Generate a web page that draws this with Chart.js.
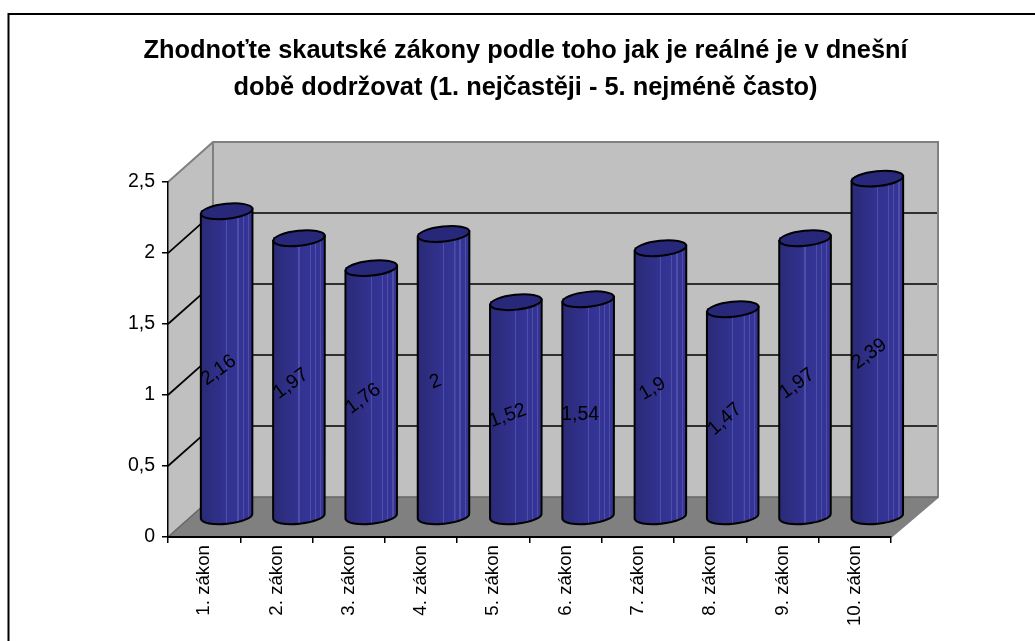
<!DOCTYPE html>
<html><head><meta charset="utf-8">
<style>html,body{margin:0;padding:0;background:#fff;overflow:hidden}canvas{display:block}</style>
<script src="https://cdn.jsdelivr.net/npm/chart.js@4"></script>
</head><body><canvas id="c" width="1035" height="641"></canvas>
<script>
const categories = ["1. zákon","2. zákon","3. zákon","4. zákon","5. zákon","6. zákon","7. zákon","8. zákon","9. zákon","10. zákon"];
const seriesValues = [2.16,1.97,1.76,2,1.52,1.54,1.9,1.47,1.97,2.39];
const yTickStep = 0.5;
const yMax = 2.5;
const titleLines = ["Zhodnoťte skautské zákony podle toho jak je reálné je v dnešní","době dodržovat (1. nejčastěji - 5. nejméně často)"];
const labelTilt = [-36,-36,-36,-22,-20,0,-30,-42,-36,-36];

const FONT = '"Liberation Sans", Arial, sans-serif';
const depth = {x:45, y:40, xRight:47};
const mid = {x:22.5, y:20};
const fmt = v => String(v).replace('.',',');
const barW = 0.714;

function barFill(ctx){
  const chart = ctx.chart, sx = chart.scales.x;
  if(!sx || ctx.dataIndex===undefined) return '#33338F';
  const w = (sx.width/categories.length)*barW;
  const cx = sx.getPixelForValue(ctx.dataIndex);
  if(!isFinite(cx) || !isFinite(w)) return '#33338F';
  const g = chart.ctx.createLinearGradient(cx-w/2,0,cx+w/2,0);
  const base = t => { const a=[42,42,118],b=[52,52,150];
    const k = Math.min(1,t/0.6);
    return `rgb(${a.map((v,i)=>Math.round(v+(b[i]-v)*k)).join(',')})`; };
  const streaks=[0.5,0.72,0.82,0.92];
  g.addColorStop(0,base(0));
  streaks.forEach(s=>{
    g.addColorStop(s-0.012,base(s));
    g.addColorStop(s-0.011,'rgb(78,78,166)');
    g.addColorStop(s+0.011,'rgb(78,78,166)');
    g.addColorStop(s+0.012,base(s));
  });
  g.addColorStop(1,base(1));
  return g;
}

const scene3d = {
  id:'scene3d',
  beforeDraw(chart){
    const c=chart.ctx, sx=chart.scales.x, sy=chart.scales.y;
    const L=sx.left,R=sx.right,T=sy.top,B=sy.bottom;
    const BL=L+depth.x, BR=R+depth.xRight, BT=T-depth.y, BB=B-depth.y;
    c.save();
    c.fillStyle='#fff'; c.fillRect(0,0,chart.width,chart.height);
    // frame
    c.strokeStyle='#000'; c.lineWidth=2;
    c.beginPath(); c.moveTo(8.5,chart.height+2); c.lineTo(8.5,14); c.lineTo(chart.width+2,14); c.stroke();
    // walls
    c.fillStyle='#C0C0C0';
    c.beginPath(); c.moveTo(L,T); c.lineTo(BL,BT); c.lineTo(BL,BB); c.lineTo(L,B); c.closePath(); c.fill();
    c.fillRect(BL,BT,BR-BL,BB-BT);
    c.fillStyle='#808080';
    c.beginPath(); c.moveTo(L,B); c.lineTo(BL,BB); c.lineTo(BR,BB); c.lineTo(R,B); c.closePath(); c.fill();
    // gridlines
    c.strokeStyle='#000'; c.lineWidth=1.7;
    for(let v=yTickStep;v<yMax;v+=yTickStep){
      const y=sy.getPixelForValue(v);
      c.beginPath(); c.moveTo(L,y); c.lineTo(BL,y-depth.y); c.lineTo(BR,y-depth.y); c.stroke();
    }
    // wall edges
    c.strokeStyle='#808080'; c.lineWidth=2;
    c.beginPath(); c.moveTo(L,T); c.lineTo(BL,BT); c.lineTo(BR,BT); c.lineTo(BR,BB); c.lineTo(R,B); c.stroke();
    c.beginPath(); c.moveTo(BL,BT); c.lineTo(BL,BB); c.stroke();
    c.strokeStyle='#666'; c.lineWidth=1.5;
    c.beginPath(); c.moveTo(L,B); c.lineTo(BL,BB); c.lineTo(BR,BB); c.stroke();
    c.restore();
  },
  beforeDatasetsDraw(chart){
    chart.ctx.save();
    chart.ctx.translate(mid.x,-mid.y);
  },
  afterDatasetsDraw(chart){
    const c=chart.ctx, ry=7.5, rot=-6*Math.PI/180;
    const els=chart.getDatasetMeta(0).data;
    els.forEach(el=>{
      const rx=el.width/2, dy=rx*Math.sin(-rot);
      c.lineJoin='round';
      c.fillStyle=el.options.backgroundColor;
      c.beginPath();
      c.ellipse(el.x,el.base,rx,ry,rot,0,Math.PI);
      c.lineTo(el.x-rx,el.base-dy);
      c.lineTo(el.x+rx,el.base-dy);
      c.closePath(); c.fill();
      c.strokeStyle='#000'; c.lineWidth=2;
      c.beginPath();
      c.moveTo(el.x-rx,el.y+dy);
      c.lineTo(el.x-rx,el.base+dy);
      c.ellipse(el.x,el.base,rx,ry,rot,Math.PI,0,true);
      c.lineTo(el.x+rx,el.y-dy);
      c.stroke();
      c.fillStyle='#28287A';
      c.beginPath(); c.ellipse(el.x,el.y+1,rx,ry,rot,0,Math.PI*2); c.fill(); c.stroke();
    });
    c.restore();
    // value labels
    c.save();
    c.fillStyle='#000'; c.font='19.5px '+FONT; c.textAlign='center'; c.textBaseline='middle';
    els.forEach((el,i)=>{
      c.save();
      c.translate(el.x+mid.x-8,(el.y+el.base)/2-mid.y+7);
      c.rotate(labelTilt[i]*Math.PI/180);
      c.fillText(fmt(seriesValues[i]),0,0);
      c.restore();
    });
    c.restore();
  }
};

new Chart(document.getElementById('c'),{
  type:'bar',
  data:{labels:categories,datasets:[{data:seriesValues,backgroundColor:barFill,borderWidth:0,
    categoryPercentage:1,barPercentage:barW}]},
  plugins:[scene3d],
  options:{
    responsive:false,animation:false,
    layout:{padding:{left:16,right:0,top:0,bottom:0}},
    plugins:{
      legend:{display:false},tooltip:{enabled:false},
      title:{display:true,text:titleLines,color:'#000',
        font:{family:FONT,size:25.4,weight:'bold',lineHeight:1.457},
        padding:{top:32,bottom:76}}
    },
    scales:{
      x:{offset:true,
        grid:{display:true,offset:true,drawOnChartArea:false,drawTicks:true,tickLength:6,color:'#000',lineWidth:1.5},
        border:{display:true,color:'#000',width:2},
        ticks:{color:'#000',font:{family:FONT,size:18.7},minRotation:90,maxRotation:90,autoSkip:false,padding:2},
        afterFit(s){s.height=104;}
      },
      y:{min:0,max:yMax,
        grid:{display:true,drawOnChartArea:false,drawTicks:true,tickLength:6,color:'#000',lineWidth:1.5},
        border:{display:true,color:'#000',width:1.5},
        ticks:{color:'#000',font:{family:FONT,size:19.5},stepSize:yTickStep,padding:7,callback:v=>fmt(v)},
        afterFit(s){s.width=152;}
      },
      yRight:{position:'right',display:true,grid:{display:false},border:{display:false},ticks:{display:false},
        afterFit(s){s.width=144;}
      }
    }
  }
});
</script></body></html>
